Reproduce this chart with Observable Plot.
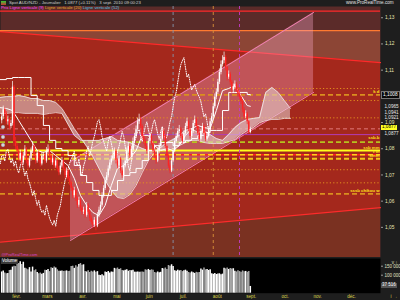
<!DOCTYPE html>
<html><head><meta charset="utf-8">
<script src="https://cdn.jsdelivr.net/npm/d3@7"></script>
<script src="https://cdn.jsdelivr.net/npm/@observablehq/plot@0.6"></script>
<style>
body{margin:0;background:#1e1e1e;width:400px;height:300px;overflow:hidden;font-family:"Liberation Sans",Arial,sans-serif;}
#wrap{position:relative;width:400px;height:300px;}
#main,#vol{position:absolute;left:0;}
#main{top:0;} #vol{top:257px;}
.ov{position:absolute;white-space:nowrap;line-height:1;}
</style></head><body><div id="wrap"></div>
<script>
// ---------- DATA ----------
const months = ["févr.","mars","avr.","mai","juin","juil.","août","sept.","oct.","nov.","déc."];
const monthStartIdx = [0,20,43,65,86,108,130,152,174,195,217];
const firstIdx = -7; // trading-day index of first candle (Feb 1 = 0)
const opens = [1.0910,1.0925,1.0952,1.0936,1.0906,1.0914,1.0888,
1.0899,1.1038,1.0831,1.0812,1.0794,1.0764,1.0786,1.0749,1.0775,1.0801,
1.0756,1.0737,1.0764,1.0794,1.0812,1.0775,1.0756,1.0786,1.0764,1.0745,
1.0775,1.0778,1.0756,1.0794,1.0801,1.0775,1.0749,1.0764,1.0737,1.0756,
1.0726,1.0711,1.0737,1.0756,1.0726,1.0700,1.0718,1.0688,1.0673,1.0651,
1.0624,1.0643,1.0613,1.0587,1.0606,1.0576,1.0561,1.0568,1.0549,1.0587,
1.0561,1.0538,1.0523,1.0512,1.0530,1.0508,1.0549,1.0568,1.0587,1.0624,
1.0651,1.0681,1.0700,1.0726,1.0749,1.0764,1.0775,1.0794,1.0756,1.0737,
1.0764,1.0718,1.0700,1.0737,1.0756,1.0794,1.0812,1.0775,1.0801,1.0831,
1.0850,1.0876,1.0906,1.0914,1.0888,1.0850,1.0831,1.0812,1.0794,1.0831,
1.0850,1.0824,1.0794,1.0775,1.0756,1.0794,1.0812,1.0839,1.0869,1.0850,
1.0812,1.0775,1.0737,1.0718,1.0756,1.0794,1.0831,1.0850,1.0869,1.0876,
1.0850,1.0831,1.0861,1.0888,1.0906,1.0876,1.0850,1.0869,1.0899,1.0914,
1.0888,1.0861,1.0839,1.0869,1.0888,1.0861,1.0839,1.0850,1.0876,1.0906,
1.0925,1.0963,1.1000,1.1019,1.1057,1.1094,1.1124,1.1139,1.1151,1.1113,
1.1076,1.1087,1.1057,1.1027,1.1038,1.1049,1.1027,1.1012,1.1000,1.0982,
1.0952,1.0925,1.0936,1.0906,1.0865];
const closes = [1.0925,1.0952,1.0936,1.0906,1.0914,1.0888,1.0899,
1.1038,1.0831,1.0812,1.0794,1.0764,1.0786,1.0749,1.0775,1.0801,1.0756,
1.0737,1.0764,1.0794,1.0812,1.0775,1.0756,1.0786,1.0764,1.0745,1.0775,
1.0778,1.0756,1.0794,1.0801,1.0775,1.0749,1.0764,1.0737,1.0756,1.0726,
1.0711,1.0737,1.0756,1.0726,1.0700,1.0718,1.0688,1.0673,1.0651,1.0624,
1.0643,1.0613,1.0587,1.0606,1.0576,1.0561,1.0568,1.0549,1.0587,1.0561,
1.0538,1.0523,1.0512,1.0530,1.0508,1.0549,1.0568,1.0587,1.0624,1.0651,
1.0681,1.0700,1.0726,1.0749,1.0764,1.0775,1.0794,1.0756,1.0737,1.0764,
1.0718,1.0700,1.0737,1.0756,1.0794,1.0812,1.0775,1.0801,1.0831,1.0850,
1.0876,1.0906,1.0914,1.0888,1.0850,1.0831,1.0812,1.0794,1.0831,1.0850,
1.0824,1.0794,1.0775,1.0756,1.0794,1.0812,1.0839,1.0869,1.0850,1.0812,
1.0775,1.0737,1.0718,1.0756,1.0794,1.0831,1.0850,1.0869,1.0876,1.0850,
1.0831,1.0861,1.0888,1.0906,1.0876,1.0850,1.0869,1.0899,1.0914,1.0888,
1.0861,1.0839,1.0869,1.0888,1.0861,1.0839,1.0850,1.0876,1.0906,1.0925,
1.0963,1.1000,1.1019,1.1057,1.1094,1.1124,1.1139,1.1151,1.1113,1.1076,
1.1087,1.1057,1.1027,1.1038,1.1049,1.1027,1.1012,1.1000,1.0982,1.0952,
1.0925,1.0936,1.0906,1.0865,1.0877];
const highs = [1.0938,1.0966,1.0960,1.0945,1.0928,1.0920,1.0912,
1.1060,1.1045,1.0846,1.0825,1.0802,1.0798,1.0795,1.0789,1.0815,1.0808,
1.0768,1.0775,1.0806,1.0830,1.0820,1.0786,1.0797,1.0795,1.0772,1.0788,
1.0790,1.0786,1.0808,1.0818,1.0810,1.0784,1.0776,1.0772,1.0768,1.0763,
1.0735,1.0749,1.0770,1.0762,1.0733,1.0730,1.0725,1.0697,1.0680,1.0658,
1.0656,1.0650,1.0620,1.0618,1.0612,1.0585,1.0580,1.0575,1.0598,1.0594,
1.0568,1.0547,1.0532,1.0541,1.0537,1.0560,1.0580,1.0600,1.0635,1.0662,
1.0693,1.0712,1.0738,1.0760,1.0776,1.0790,1.0806,1.0800,1.0764,1.0775,
1.0770,1.0726,1.0748,1.0768,1.0806,1.0826,1.0820,1.0812,1.0844,1.0862,
1.0890,1.0920,1.0935,1.0922,1.0895,1.0858,1.0840,1.0820,1.0842,1.0862,
1.0858,1.0830,1.0802,1.0783,1.0805,1.0824,1.0850,1.0882,1.0876,1.0856,
1.0818,1.0782,1.0745,1.0766,1.0805,1.0842,1.0862,1.0880,1.0892,1.0884,
1.0858,1.0872,1.0900,1.0920,1.0912,1.0882,1.0880,1.0910,1.0928,1.0920,
1.0895,1.0868,1.0878,1.0900,1.0895,1.0868,1.0862,1.0888,1.0918,1.0938,
1.0975,1.1012,1.1032,1.1068,1.1108,1.1138,1.1158,1.1172,1.1160,1.1120,
1.1100,1.1095,1.1064,1.1050,1.1062,1.1056,1.1035,1.1020,1.1008,1.0990,
1.0960,1.0948,1.0942,1.0912,1.0885];
const lows = [1.0898,1.0915,1.0925,1.0895,1.0893,1.0876,1.0880,
1.0890,1.0812,1.0800,1.0780,1.0752,1.0755,1.0738,1.0740,1.0766,1.0745,
1.0725,1.0730,1.0756,1.0785,1.0766,1.0744,1.0748,1.0752,1.0733,1.0738,
1.0762,1.0744,1.0748,1.0782,1.0766,1.0738,1.0740,1.0726,1.0729,1.0715,
1.0700,1.0703,1.0730,1.0718,1.0688,1.0692,1.0678,1.0662,1.0640,1.0612,
1.0615,1.0602,1.0575,1.0580,1.0565,1.0550,1.0552,1.0538,1.0542,1.0552,
1.0526,1.0512,1.0500,1.0503,1.0490,1.0502,1.0540,1.0560,1.0580,1.0615,
1.0644,1.0672,1.0692,1.0718,1.0740,1.0755,1.0766,1.0745,1.0726,1.0730,
1.0708,1.0690,1.0694,1.0730,1.0748,1.0786,1.0766,1.0768,1.0794,1.0822,
1.0842,1.0868,1.0896,1.0878,1.0840,1.0820,1.0800,1.0782,1.0786,1.0822,
1.0815,1.0784,1.0765,1.0744,1.0750,1.0786,1.0805,1.0832,1.0840,1.0802,
1.0766,1.0728,1.0708,1.0712,1.0750,1.0788,1.0824,1.0842,1.0860,1.0842,
1.0822,1.0825,1.0855,1.0880,1.0868,1.0840,1.0842,1.0862,1.0890,1.0880,
1.0852,1.0830,1.0832,1.0862,1.0852,1.0830,1.0832,1.0844,1.0870,1.0898,
1.0918,1.0955,1.0990,1.1010,1.1048,1.1085,1.1115,1.1128,1.1100,1.1062,
1.1068,1.1045,1.1015,1.1018,1.1030,1.1018,1.1000,1.0990,1.0972,1.0940,
1.0915,1.0918,1.0895,1.0858,1.0860];
const volumesK = [118,124,112,108,110,126,128,145,150,
148,170,165,175,160,172,138,135,130,142,
118,145,125,130,115,108,112,105,110,
128,126,131,120,142,138,145,140,130,
122,122,123,121,122,124,120,122,
148,150,138,152,145,160,165,155,158,
120,118,125,115,122,118,124,116,120,
100,98,102,96,118,115,120,112,118,116,
138,135,140,132,136,126,124,128,130,122,126,125,127,
117,117,118,116,117,118,117,130,128,132,126,130,127,
115,112,118,114,116,137,135,140,132,154,150,158,148,
125,122,128,124,126,120,125,128,122,
115,112,118,114,110,116,113,115,
135,128,140,130,132,126,130,
108,105,110,104,106,108,102,106,
138,135,140,132,137,134,136,
122,118,125,120,116,124,119,121,117,120,37.516];
const lineIdx = [-8,-4,0,4,8,12,16,20,24,28,32,36,40,44,48,52,56,60,64,68,72,76,80,84,88,92,96,100,104,108,112,116,120,124,128,132,136,140,144,148,152,154];
const kijun = [1.1067,1.1071,1.1075,1.1075,1.1075,1.1006,1.0968,1.0892,1.0835,1.0804,1.0796,1.0777,1.0739,1.0701,1.0674,1.0644,1.0625,1.0625,1.0644,1.0682,1.0701,1.0712,1.0728,1.0758,1.0796,1.0815,1.0827,1.0827,1.0815,1.0827,1.0835,1.0842,1.0854,1.0865,1.0873,1.0873,1.0949,1.1018,1.1018,1.1018,1.1010,1.1008];
const tenkan = [1.0960,1.0957,1.0949,1.0911,1.0873,1.0835,1.0796,1.0789,1.0796,1.0777,1.0758,1.0739,1.0690,1.0625,1.0587,1.0560,1.0548,1.0587,1.0663,1.0728,1.0739,1.0766,1.0796,1.0854,1.0854,1.0815,1.0796,1.0804,1.0796,1.0815,1.0854,1.0880,1.0892,1.0884,1.0880,1.0949,1.1025,1.1033,1.1044,1.1006,1.0968,1.0965];
const cloudIdx = [-8,-4,0,4,8,12,16,20,24,28,32,36,40,44,48,52,56,60,64,68,72,76,80,84,88,92,96,100,104,108,112,116,120,124,128,132,136,140,144,148,152,156,160,164,168,172,176,180];
const spanA = [1.0999,1.1002,1.1002,1.1006,1.1002,1.0995,1.0995,1.0987,1.0987,1.0980,1.0957,1.0919,1.0880,1.0846,1.0812,1.0773,1.0728,1.0682,1.0644,1.0617,1.0613,1.0628,1.0663,1.0712,1.0758,1.0789,1.0808,1.0827,1.0838,1.0854,1.0873,1.0880,1.0865,1.0873,1.0857,1.0842,1.0835,1.0857,1.0884,1.0903,1.0915,1.0919,1.0922,1.1018,1.1037,1.1018,1.0987,1.0957];
const spanB = [1.0938,1.0938,1.0941,1.0941,1.0938,1.0938,1.0938,1.0934,1.0938,1.0941,1.0938,1.0896,1.0854,1.0835,1.0835,1.0835,1.0835,1.0842,1.0850,1.0835,1.0831,1.0827,1.0815,1.0804,1.0796,1.0796,1.0800,1.0796,1.0804,1.0815,1.0827,1.0835,1.0835,1.0827,1.0823,1.0823,1.0823,1.0831,1.0838,1.0857,1.0873,1.0884,1.0903,1.0911,1.0915,1.0915,1.0919,1.0919];
// trend channel (red) and pink regression channel
const trendIdx = [-7.77, 238.3];
const trendUpper = [1.1250, 1.1132];
const trendLower = [1.0447, 1.0578];
const channelIdx = [37.56, 194.95];
const channelUpper = [1.0754, 1.1323];
const channelLower = [1.0453, 1.1018];
// horizontal levels
const topRedLevel = [1.1328];
const orangeLevel = 1.1254;
const dottedOrange = [1.1033, 1.0987, 1.0921, 1.0723, 1.0673];
const dashedOrange = [1.1009, 1.0631];
const olivDashed = [1.0828];
const yellowSolid = [1.0796];
const redYellowDashed = [1.0780];
const yellowDashed = [1.0765];
const purpleLevel = [1.0857];
const pinkDashed = [1.0879];
// level tags (text and the price at which each tag sits)
const levelLabels = ["k d","ssb.b","ssb mm","t m","kmm","sssb chikou w"];
const levelLabelPrices = [1.1021,1.0846,1.0809,1.0791,1.0775,1.0644];
// vertical lines (trading-day index)
const vline9 = [147], vline20 = [130], vline52 = [104];
const yTicks = [1.05,1.06,1.07,1.08,1.09,1.11,1.12,1.13];
const axisValues = [1.0965, 1.0941, 1.0921];
const lastPrice = 1.0877, kijunValue = 1.1008, lastVolumeK = 37.516;
const volTicks = [100, 150];

// ---------- BUILD ----------
const candles = closes.map((c,k)=>({i:firstIdx+k,o:opens[k],h:highs[k],l:lows[k],c,v:volumesK[k]}));
const trend = trendIdx.map((x,k)=>({x,up:trendUpper[k],lo:trendLower[k]}));
const chan = channelIdx.map((x,k)=>({x,up:channelUpper[k],lo:channelLower[k]}));
const cloud = cloudIdx.map((x,k)=>({x,a:spanA[k],b:spanB[k]}));
const lines = lineIdx.map((x,k)=>({x,t:tenkan[k],k:kijun[k]}));
const tags = levelLabels.map((t,k)=>({t,p:levelLabelPrices[k]}));
const xDomain = [-7.77, 238.3];
const yDomain = [1.0388, 1.1346];
const col = d => d.c >= d.o ? "#ffffff" : "#ff2323";
const F = "Liberation Sans, Arial, sans-serif";

const main = Plot.plot({
  width:400, height:257, marginTop:6, marginBottom:0, marginLeft:0, marginRight:20,
  style:{background:"transparent", fontFamily:F},
  x:{domain:xDomain, axis:null}, y:{domain:yDomain, axis:null},
  color:{type:"identity"},
  marks:[
    Plot.frame({fill:"#5b2b29", stroke:null}),
    Plot.areaY(xDomain,{x:d=>d, y1:yDomain[0], y2:orangeLevel, fill:"#8c4535"}),
    Plot.areaY(trend,{x:"x", y1:"lo", y2:"up", fill:"#a4281c"}),
    Plot.areaY(trend,{x:"x", y1:yDomain[0], y2:"lo", fill:"#7a3121"}),
    Plot.line(trend,{x:"x", y:"up", stroke:"#ff2a2a", strokeWidth:1.2}),
    Plot.line(trend,{x:"x", y:"lo", stroke:"#ff2a2a", strokeWidth:1.2}),
    Plot.ruleY(topRedLevel,{stroke:"#ff2a2a", strokeWidth:1.3}),
    Plot.ruleY([orangeLevel],{stroke:"#ff7a30", strokeWidth:1.3}),
    Plot.areaY(chan,{x:"x", y1:"lo", y2:"up", fill:"#f5a3c6", fillOpacity:0.36}),
    Plot.line(chan,{x:"x", y:"up", stroke:"#f27fb0", strokeWidth:1}),
    Plot.line(chan,{x:"x", y:"lo", stroke:"#f27fb0", strokeWidth:1}),
    Plot.ruleY(dottedOrange,{stroke:"#e3901e", strokeWidth:1, strokeDasharray:"1.2,2.2"}),
    Plot.ruleY(dashedOrange,{stroke:"#d98f1f", strokeWidth:1.8, strokeDasharray:"5,3"}),
    Plot.ruleY(pinkDashed,{stroke:"#e07a7a", strokeWidth:1, strokeDasharray:"4,3"}),
    Plot.ruleY(purpleLevel,{stroke:"#b23cb8", strokeWidth:1}),
    Plot.ruleY(olivDashed,{stroke:"#b6c21e", strokeWidth:1.8, strokeDasharray:"5,3"}),
    Plot.ruleY(yellowSolid,{stroke:"#ffff1a", strokeWidth:2}),
    Plot.ruleY(redYellowDashed,{stroke:"#ff2020", strokeWidth:1.5}),
    Plot.ruleY(redYellowDashed,{stroke:"#ffd21a", strokeWidth:1.5, strokeDasharray:"5,3"}),
    Plot.ruleY(yellowDashed,{stroke:"#f2c41a", strokeWidth:2, strokeDasharray:"5,3"}),
    Plot.ruleX(vline52,{stroke:"#8596ad", strokeWidth:0.9, strokeDasharray:"3,3"}),
    Plot.ruleX(vline20,{stroke:"#d9923a", strokeWidth:0.9, strokeDasharray:"3,3"}),
    Plot.ruleX(vline9,{stroke:"#c33cc6", strokeWidth:0.9, strokeDasharray:"3,3"}),
    Plot.areaY(cloud,{x:"x", y1:"a", y2:"b", fill:"#e6d6d6", fillOpacity:0.55}),
    Plot.line(cloud,{x:"x", y:"a", stroke:"#f4ecec", strokeWidth:0.8}),
    Plot.line(cloud,{x:"x", y:"b", stroke:"#f4ecec", strokeWidth:0.8}),
    Plot.line(lines,{x:"x", y:"k", stroke:"#ffffff", strokeWidth:1, curve:"step-after"}),
    Plot.line(lines,{x:"x", y:"t", stroke:"#ffffff", strokeWidth:1}),
    Plot.line(candles,{x:d=>d.i-26, y:"c", stroke:"#ffffff", strokeWidth:1, strokeDasharray:"1,1.4", clip:true}),
    Plot.ruleX(candles,{x:"i", y1:"l", y2:"h", stroke:col, strokeWidth:0.7}),
    Plot.ruleX(candles,{x:"i", y1:"o", y2:"c", stroke:col, strokeWidth:1.4}),
    Plot.text(tags,{x:xDomain[1], y:"p", text:"t", textAnchor:"end", dx:-1, fill:"#ffe21a", fontSize:4.3, fontWeight:"bold"}),
    Plot.text(["@ProRealTime.com"],{frameAnchor:"bottom-left", dx:1, dy:-1.5, fill:"#d545d0", fontSize:4}),
    Plot.axisY({anchor:"right", ticks:yTicks, tickFormat:d=>d.toFixed(2).replace(".",","), tickSize:2, tickPadding:2.5, dy:-0.8, stroke:"#999", fill:"#e6e6b4", fontSize:4.8}),
    Plot.text(axisValues,{x:xDomain[1], y:d=>d, text:d=>d.toFixed(4).replace(".",","), textAnchor:"start", dx:4, fill:"#e8e8e8", fontSize:4.6}),
    Plot.text([lastPrice],{x:xDomain[1], y:d=>d, text:d=>d.toFixed(4).replace(".",","), textAnchor:"start", dx:4, dy:4.2, fill:"#e8e8e8", fontSize:4.6})
  ]
});
main.id = "main";

const vol = Plot.plot({
  width:400, height:43, marginTop:1, marginBottom:7.3, marginLeft:0, marginRight:20,
  style:{background:"transparent", fontFamily:F},
  x:{domain:xDomain, axis:null}, y:{domain:[0,192.8], axis:null},
  color:{type:"identity"},
  marks:[
    Plot.frame({fill:"#000000", stroke:null}),
    Plot.ruleX(candles,{x:"i", y1:0, y2:"v", stroke:d=>d.c>=d.o?"#ffffff":"#a9a9a9", strokeWidth:1.5}),
    Plot.axisX({anchor:"bottom", ticks:monthStartIdx, tickFormat:d=>months[monthStartIdx.indexOf(d)], tickSize:0, tickPadding:1.6, dx:4, fill:"#dcd24a", fontSize:4.6}),
    Plot.axisY({anchor:"right", ticks:volTicks, tickFormat:d=>d+" 000", tickSize:2, tickPadding:2, stroke:"#999", fill:"#e0e0c0", fontSize:4.5})
  ]
});
vol.id = "vol";

const wrap = document.getElementById("wrap");
wrap.appendChild(main); wrap.appendChild(vol);
function ov(html, css){const d=document.createElement("div");d.className="ov";d.innerHTML=html;d.style.cssText+=css;wrap.appendChild(d);return d;}
const ys = main.scale("y"), vs = vol.scale("y");
// header & legend
ov("", "left:1px;top:1px;width:5px;height:4px;background:linear-gradient(#3c3,#c33);");
ov("Spot AUD/NZD - Journalier &nbsp; 1.0877 (+0.11%) &nbsp; 3 sept. 2010 09:00:23", "left:9px;top:0.8px;font-size:4.3px;color:#cfcfcf;");
ov("www.ProRealTime.com", "left:346px;top:0.8px;font-size:4.6px;color:#e0e0e0;");
ov('<span style="color:#ff48ff">Prix</span> <span style="color:#ff48ff">Ligne verticale (9)</span> <span style="color:#e6b030">Ligne verticale (20)</span> <span style="color:#4fc4e4">Ligne verticale (52)</span>', "left:1px;top:6.2px;font-size:4.3px;background:#5b2b29;padding-right:1px;");
// price boxes
ov(kijunValue.toFixed(4).replace(".",","), `left:381px;top:${ys.apply(kijunValue)-3.2}px;font-size:4.8px;color:#fff;background:#0a0a0a;padding:0.5px 1px;border:0.5px solid #777;`);
ov(lastPrice.toFixed(4).replace(".",","), `left:381px;top:${ys.apply(lastPrice)-4.2}px;font-size:4.6px;color:#000;background:#ffff22;padding:0.4px 1px;`);
ov("Volume", "left:1px;top:259px;font-size:4.5px;color:#fff;background:#3a3a3a;padding:0.3px 1px;");
ov("37 516", `left:381px;top:${257+vs.apply(lastVolumeK)-3}px;font-size:4.5px;color:#fff;background:#555;padding:0.3px 1px;`);
// small round buttons on left edge
[125,135,143].forEach(t=>ov("", `left:1px;top:${t}px;width:4px;height:4px;border-radius:50%;background:radial-gradient(#eee,#889);`));
</script></body></html>
